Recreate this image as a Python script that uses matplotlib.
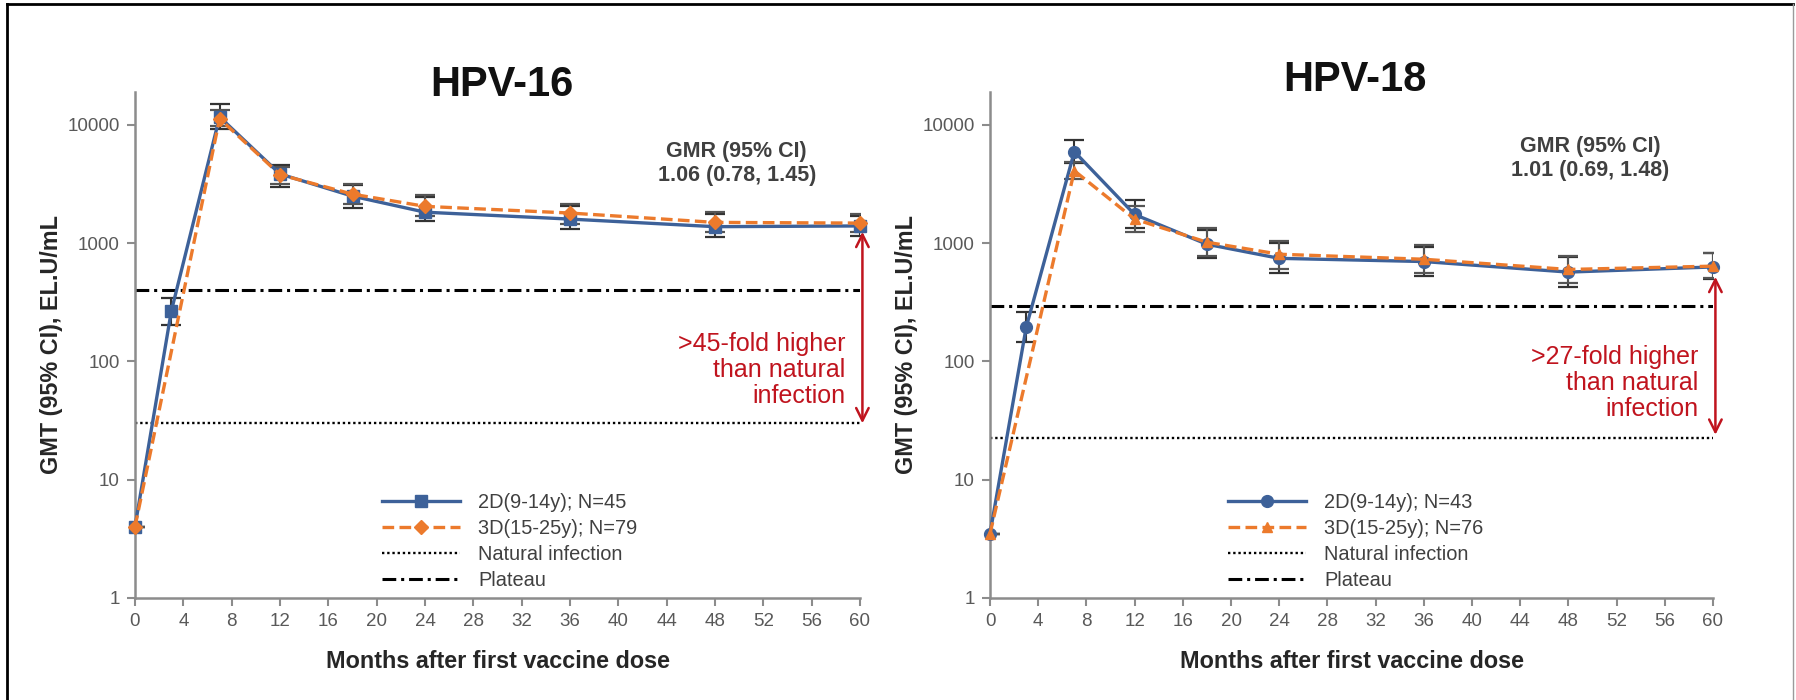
import matplotlib
matplotlib.use("Agg")
import matplotlib.pyplot as plt
from matplotlib.lines import Line2D

plt.rcParams['font.family'] = ['Liberation Sans', 'DejaVu Sans']

# =========================
# DATA
# =========================
months_2d = [0, 3, 7, 12, 18, 24, 36, 48, 60]
months_3d = [0, 7, 12, 18, 24, 36, 48, 60]
x_ticks = list(range(0, 61, 4))
y_ticks = [1, 10, 100, 1000, 10000]
y_tick_labels = ["1", "10", "100", "1000", "10000"]

# HPV-16
hpv16_2d = [4.0, 265, 11700, 3850, 2500, 1830, 1600, 1380, 1400]
hpv16_2d_lo = [4.0, 205, 9300, 3000, 2000, 1550, 1320, 1130, 1150]
hpv16_2d_hi = [4.0, 345, 15000, 4600, 3100, 2450, 2050, 1750, 1700]
hpv16_3d = [4.0, 11300, 3800, 2600, 2050, 1800, 1500, 1480]
hpv16_3d_lo = [4.0, 9800, 3150, 2150, 1700, 1450, 1250, 1250]
hpv16_3d_hi = [4.0, 13500, 4400, 3150, 2550, 2150, 1830, 1780]
hpv16_natural = 30
hpv16_plateau = 400

# HPV-18
hpv18_2d = [3.5, 194, 5950, 1750, 980, 745, 700, 570, 630]
hpv18_2d_lo = [3.5, 145, 4800, 1350, 750, 560, 530, 430, 500]
hpv18_2d_hi = [3.5, 260, 7400, 2300, 1300, 1000, 930, 760, 830]
hpv18_3d = [3.5, 4100, 1600, 1020, 807, 732, 600, 640]
hpv18_3d_lo = [3.5, 3500, 1250, 780, 600, 560, 460, 510]
hpv18_3d_hi = [3.5, 4900, 2050, 1350, 1050, 960, 780, 830]
hpv18_natural = 22.7
hpv18_plateau = 295

panels = [
    dict(title="HPV-16", d2=hpv16_2d, d2lo=hpv16_2d_lo, d2hi=hpv16_2d_hi,
         d3=hpv16_3d, d3lo=hpv16_3d_lo, d3hi=hpv16_3d_hi,
         nat=hpv16_natural, plat=hpv16_plateau,
         lab2="2D(9-14y); N=45", lab3="3D(15-25y); N=79",
         m2="s", m3="D", gmr="GMR (95% CI)\n1.06 (0.78, 1.45)",
         fold=">45-fold higher\nthan natural\ninfection",
         arrow=(1250, 30), fold_y=85, gmr_y=4720),
    dict(title="HPV-18", d2=hpv18_2d, d2lo=hpv18_2d_lo, d2hi=hpv18_2d_hi,
         d3=hpv18_3d, d3lo=hpv18_3d_lo, d3hi=hpv18_3d_hi,
         nat=hpv18_natural, plat=hpv18_plateau,
         lab2="2D(9-14y); N=43", lab3="3D(15-25y); N=76",
         m2="o", m3="^", gmr="GMR (95% CI)\n1.01 (0.69, 1.48)",
         fold=">27-fold higher\nthan natural\ninfection",
         arrow=(520, 24), fold_y=66, gmr_y=5200),
]

BLUE = "#3d6199"
ORANGE = "#ec7a2c"
RED = "#c0141e"
AXIS = "#8c8c8c"
TXT = "#404040"

W, H = 1796, 700
fig = plt.figure(figsize=(W / 100, H / 100), dpi=100)

axes_px = [(135, 860), (990, 1713)]
title_px = [(502, 85), (1355, 80)]
legend_px = [(382, 493), (1228, 493)]
y_top, y_bot = 92, 598

for p, (x0, x1), (tx, ty), (lx, ly) in zip(panels, axes_px, title_px, legend_px):
    ax = fig.add_axes([x0 / W, 1 - y_bot / H, (x1 - x0) / W, (y_bot - y_top) / H])
    ax.set_yscale("log")
    ax.set_xlim(0, 60)
    ax.set_ylim(1, 19000)

    # reference lines
    nat_line, = ax.plot([0, 60], [p["nat"], p["nat"]], color="black", lw=1.7,
                        linestyle=(0, (1, 1.2)), label="Natural infection")
    plat_line, = ax.plot([0, 60], [p["plat"], p["plat"]], color="black", lw=2.2,
                         linestyle=(0, (4.5, 1.6, 1, 1.6)), label="Plateau")

    # error bars
    err2 = [[a - b for a, b in zip(p["d2"], p["d2lo"])], [b - a for a, b in zip(p["d2"], p["d2hi"])]]
    err3 = [[a - b for a, b in zip(p["d3"], p["d3lo"])], [b - a for a, b in zip(p["d3"], p["d3hi"])]]
    ax.errorbar(months_2d, p["d2"], yerr=err2, fmt="none", ecolor="#333333",
                elinewidth=1.5, capsize=7, capthick=1.6, zorder=3)
    ax.errorbar(months_3d, p["d3"], yerr=err3, fmt="none", ecolor="#555555",
                elinewidth=1.5, capsize=7, capthick=1.6, zorder=3)

    l2, = ax.plot(months_2d, p["d2"], color=BLUE, lw=2.4, marker=p["m2"], ms=8.5,
                  label=p["lab2"], zorder=4, clip_on=False)
    l3, = ax.plot(months_3d, p["d3"], color=ORANGE, lw=2.4, marker=p["m3"], ms=7.5,
                  linestyle=(0, (3.5, 1.6)), label=p["lab3"], zorder=5, clip_on=False)

    # axes styling
    for s in ["top", "right"]:
        ax.spines[s].set_visible(False)
    for s in ["left", "bottom"]:
        ax.spines[s].set_color(AXIS)
        ax.spines[s].set_linewidth(1.8)
    ax.set_xticks(x_ticks)
    ax.set_yticks(y_ticks)
    ax.set_yticklabels(y_tick_labels)
    ax.minorticks_off()
    ax.tick_params(colors=AXIS, width=1.5, length=6, labelsize=13.5,
                   labelcolor="#595959", pad=5)

    # arrow and annotations
    ax.annotate("", xy=(60.2, p["arrow"][0]), xytext=(60.2, p["arrow"][1]),
                arrowprops=dict(arrowstyle="<->,head_length=0.9,head_width=0.45",
                                color=RED, lw=1.8, shrinkA=0, shrinkB=0),
                annotation_clip=False)
    ax.text(58.8, p["fold_y"], p["fold"], color=RED, fontsize=18, ha="right",
            va="center", linespacing=1.1)
    ax.text(49.8, p["gmr_y"], p["gmr"], color=TXT, fontsize=15.5, fontweight="bold",
            ha="center", va="center", linespacing=1.15)

    ax.set_xlabel("Months after first vaccine dose", fontsize=16.8, fontweight="bold",
                  color="#262626", labelpad=14)
    ax.set_ylabel("GMT (95% CI), EL.U/mL", fontsize=16.8, fontweight="bold",
                  color="#262626", labelpad=3)

    fig.text(tx / W, 1 - ty / H, p["title"], fontsize=30, fontweight="bold",
             ha="center", va="center", color="#111111")

    fig.legend(handles=[l2, l3, nat_line, plat_line], loc="upper left",
               bbox_to_anchor=(lx / W, 1 - ly / H), frameon=False,
               fontsize=14.4, labelcolor=TXT, handlelength=3.9, handletextpad=0.9,
               labelspacing=0.35, borderpad=0, borderaxespad=0)

# outer frame
fig.add_artist(Line2D([7 / W, 7 / W], [0, 1 - 4 / H], color="black", lw=2))
fig.add_artist(Line2D([7 / W, 1793 / W], [1 - 4 / H, 1 - 4 / H], color="black", lw=2))
fig.add_artist(Line2D([1793 / W, 1793 / W], [0, 1 - 4 / H], color="#9a9a9a", lw=1))

fig.savefig("out.png", dpi=100)
